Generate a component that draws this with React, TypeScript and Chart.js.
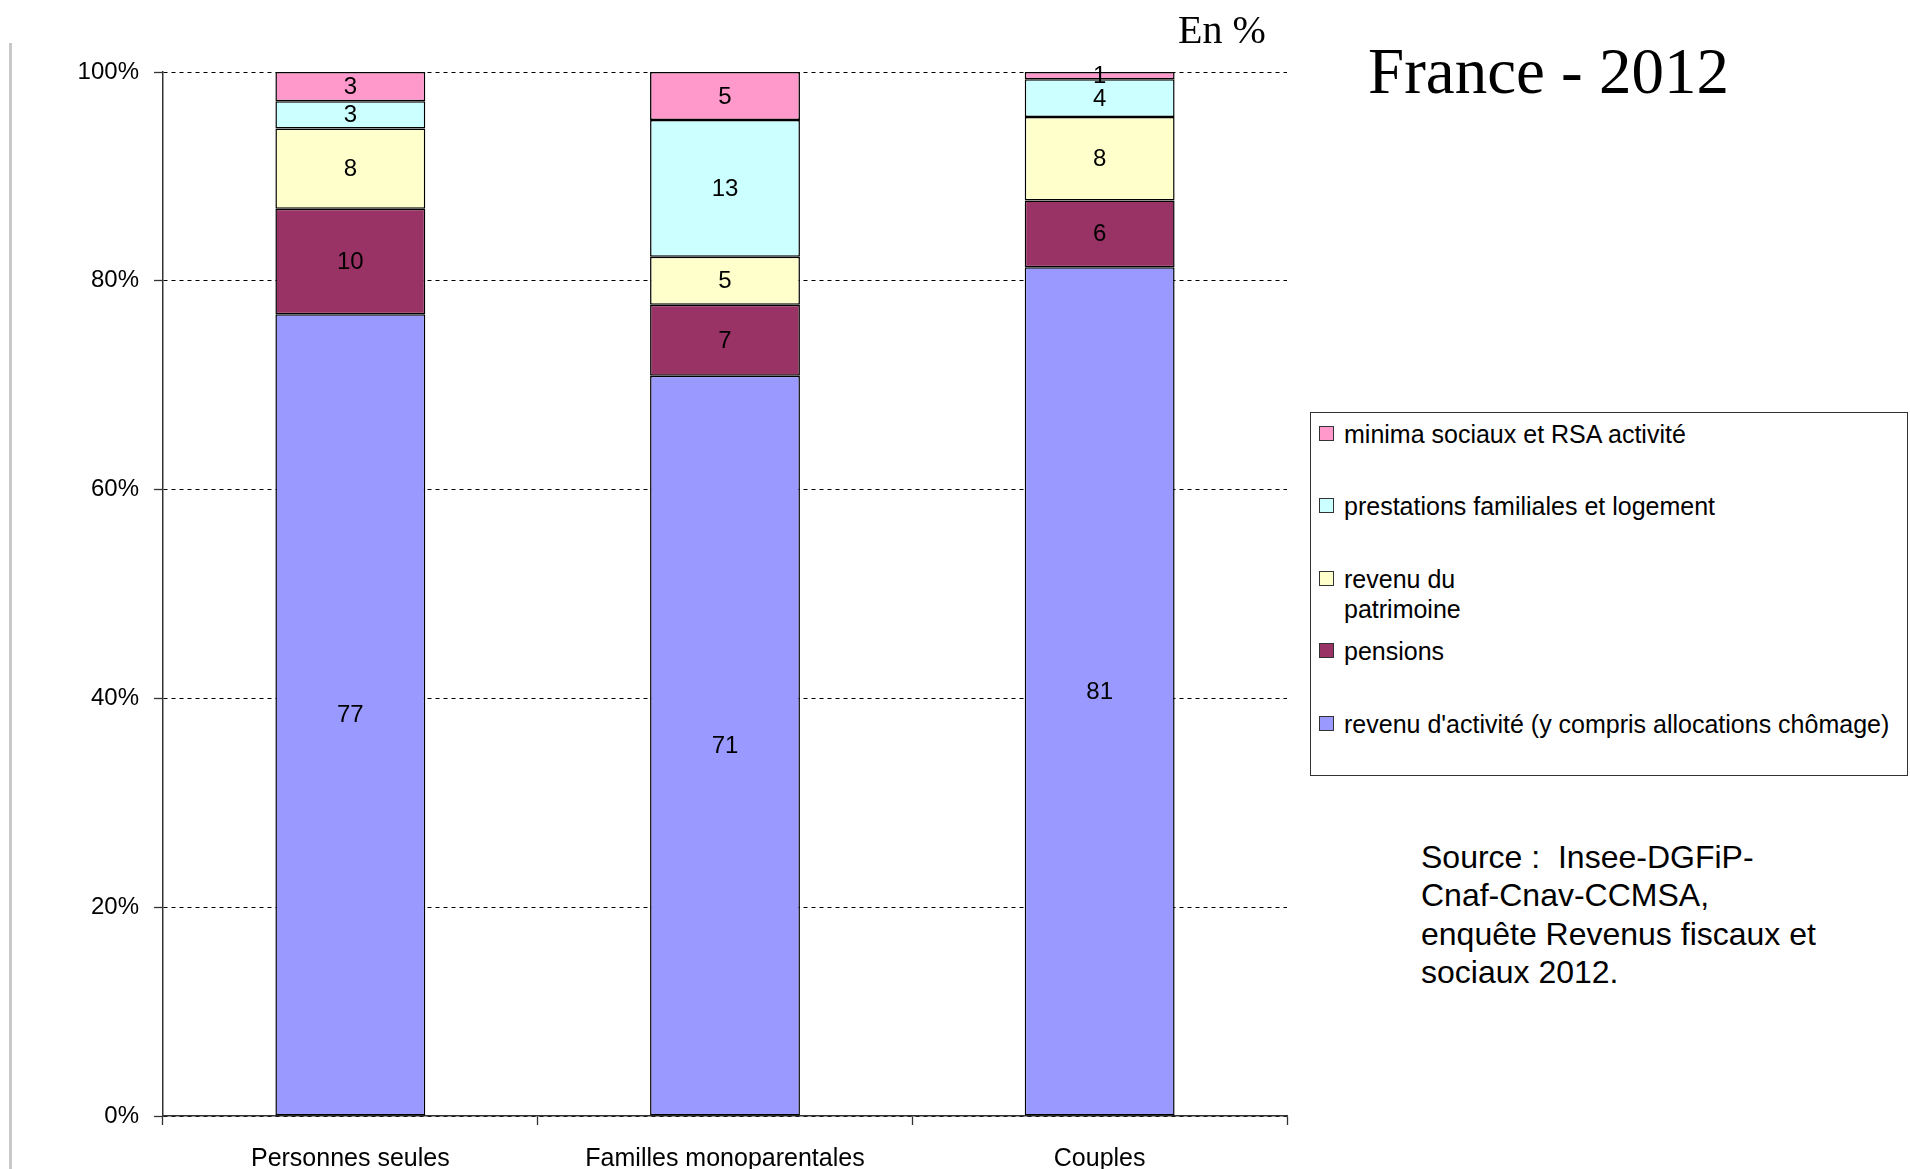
import React, { useEffect, useRef } from "react";
import { Chart, registerables } from "chart.js";

Chart.register(...registerables);

const categories = ["Personnes seules", "Familles monoparentales", "Couples"];

const seriesNames = [
  "revenu d'activité (y compris allocations chômage)",
  "pensions",
  "revenu du\npatrimoine",
  "prestations familiales et logement",
  "minima sociaux et RSA activité",
];

const activite = [76.8, 70.9, 81.3];
const pensions = [10.1, 6.8, 6.4];
const patrimoine = [7.7, 4.6, 8.0];
const prestations = [2.6, 13.1, 3.6];
const minima = [2.8, 4.6, 0.7];

const seriesColors = ["#9999FF", "#993366", "#FFFFCC", "#CCFFFF", "#FF99CC"];

const yTicks = [0, 20, 40, 60, 80, 100];

const titleText = "France - 2012";
const unitText = "En %";
const sourceLines = [
  "Source :  Insee-DGFiP-",
  "Cnaf-Cnav-CCMSA,",
  "enquête Revenus fiscaux et",
  "sociaux 2012.",
];

const SANS = "'Liberation Sans', Arial, Helvetica, sans-serif";
const SERIF = "'Liberation Serif', 'Times New Roman', Times, serif";

const valueLabelPlugin = {
  id: "valueLabels",
  afterDatasetsDraw(chart: any) {
    const ctx = chart.ctx;
    ctx.save();
    ctx.font = `24px ${SANS}`;
    ctx.fillStyle = "#000";
    ctx.textAlign = "center";
    ctx.textBaseline = "middle";
    chart.data.datasets.forEach((ds: any, i: number) => {
      const meta = chart.getDatasetMeta(i);
      meta.data.forEach((bar: any, j: number) => {
        const p = bar.getProps(["x", "y", "base"], true);
        const v = ds.data[j];
        ctx.fillText(String(Math.round(v)), p.x, (p.y + p.base) / 2 + 1);
      });
    });
    ctx.restore();
  },
};

export default function App() {
  const canvasRef = useRef<HTMLCanvasElement | null>(null);

  useEffect(() => {
    if (!canvasRef.current) return;
    const seriesValues = [activite, pensions, patrimoine, prestations, minima];
    const chart = new Chart(canvasRef.current, {
      type: "bar",
      data: {
        labels: categories,
        datasets: seriesValues.map((vals, i) => ({
          label: seriesNames[i],
          data: vals,
          backgroundColor: seriesColors[i],
          borderColor: "#000",
          borderWidth: 1.5,
          borderSkipped: false,
          barPercentage: 0.4,
          categoryPercentage: 1,
        })),
      },
      options: {
        animation: false,
        responsive: false,
        maintainAspectRatio: false,
        devicePixelRatio: 1,
        layout: { padding: { top: 72, right: 23, bottom: 0, left: 0 } },
        plugins: {
          legend: { display: false },
          tooltip: { enabled: false },
        },
        scales: {
          x: {
            stacked: true,
            afterFit(scale: any) {
              scale.height = 53;
            },
            grid: {
              offset: true,
              drawOnChartArea: false,
              drawTicks: true,
              tickLength: 9,
              tickColor: "#333",
              tickWidth: 1.3,
            },
            border: { display: true, color: "#333", width: 1.5 },
            ticks: {
              color: "#000",
              padding: 19,
              font: { family: SANS, size: 25 },
            },
          },
          y: {
            stacked: true,
            min: 0,
            max: 100,
            afterFit(scale: any) {
              scale.width = 163;
            },
            afterBuildTicks(scale: any) {
              scale.ticks = yTicks.map((v) => ({ value: v }));
            },
            grid: {
              color: "#000",
              lineWidth: 1,
              drawTicks: true,
              tickLength: 9,
              tickColor: "#333",
              tickWidth: 1.3,
              tickBorderDash: [],
            },
            border: { display: true, color: "#333", width: 1.5, dash: [4, 4] },
            ticks: {
              color: "#000",
              padding: 15,
              font: { family: SANS, size: 24 },
              callback: (v: any) => `${v}%`,
            },
          },
        },
      },
      plugins: [valueLabelPlugin],
    });
    return () => chart.destroy();
  }, []);

  const legendTops = [6, 78, 151, 223, 296];
  const legendOrder = [4, 3, 2, 1, 0];

  return (
    <div
      style={{
        position: "fixed",
        left: 0,
        top: 0,
        width: 1910,
        height: 1169,
        background: "#fff",
        overflow: "hidden",
      }}
    >
      <div
        style={{
          position: "absolute",
          left: 9,
          top: 43,
          width: 3,
          height: 1130,
          background: "#c8c8c8",
        }}
      />
      <canvas
        ref={canvasRef}
        width={1310}
        height={1169}
        style={{ position: "absolute", left: 0, top: 0, width: 1310, height: 1169 }}
      />
      <div
        style={{
          position: "absolute",
          left: 1178,
          top: 9.5,
          fontFamily: SERIF,
          fontSize: 40,
          lineHeight: 1,
          color: "#000",
          whiteSpace: "nowrap",
        }}
      >
        {unitText}
      </div>
      <div
        style={{
          position: "absolute",
          left: 1368,
          top: 38.5,
          fontFamily: SERIF,
          fontSize: 65,
          lineHeight: 1,
          color: "#000",
          whiteSpace: "nowrap",
        }}
      >
        {titleText}
      </div>
      <div
        style={{
          position: "absolute",
          left: 1310,
          top: 412,
          width: 596,
          height: 362,
          border: "1.5px solid #333",
          fontFamily: SANS,
          fontSize: 25,
          color: "#000",
        }}
      >
        {legendOrder.map((si, k) => (
          <div
            key={si}
            style={{
              position: "absolute",
              left: 0,
              top: legendTops[k],
              width: 596,
              lineHeight: "30px",
            }}
          >
            <div
              style={{
                position: "absolute",
                left: 8,
                top: 7,
                width: 13,
                height: 13,
                background: seriesColors[si],
                border: "1.5px solid #333",
              }}
            />
            <div
              style={{
                position: "absolute",
                left: 33,
                top: 0,
                whiteSpace: "pre",
              }}
            >
              {seriesNames[si]}
            </div>
          </div>
        ))}
      </div>
      <div
        style={{
          position: "absolute",
          left: 1421,
          top: 838,
          fontFamily: SANS,
          fontSize: 32,
          lineHeight: "38.3px",
          color: "#000",
          whiteSpace: "pre",
        }}
      >
        {sourceLines.join("\n")}
      </div>
    </div>
  );
}
